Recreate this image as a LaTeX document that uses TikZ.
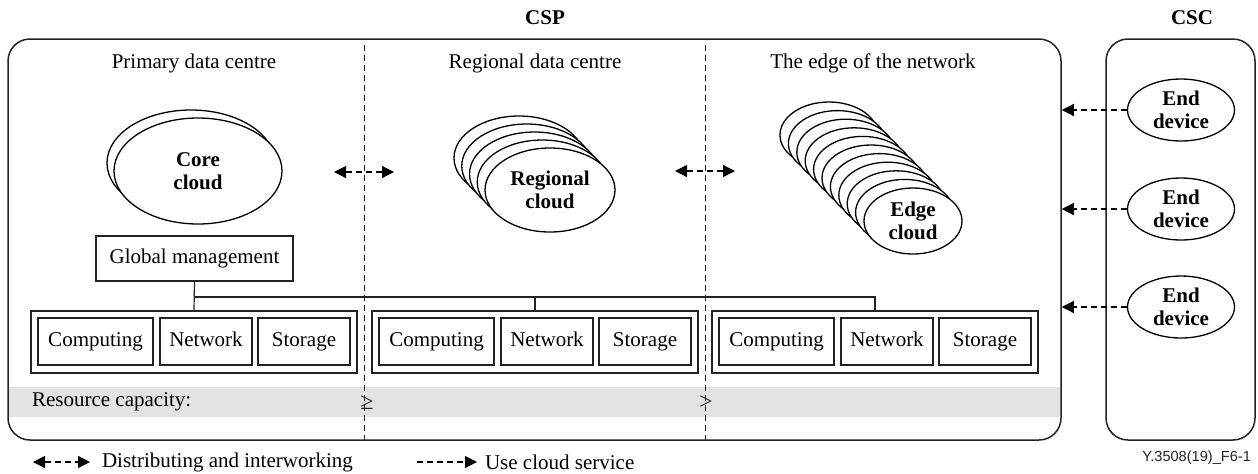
\documentclass[tikz,border=0pt]{standalone}
\usepackage{fontspec}
\setmainfont{Liberation Serif}
\newfontfamily\tagfont{Liberation Sans}
\usetikzlibrary{arrows.meta,shapes.geometric}
\definecolor{bandgray}{HTML}{E3E3E3}
\definecolor{inkgray}{HTML}{222222}
\tikzset{
  panel/.style={draw=inkgray, line width=0.75pt, rounded corners=11pt, inner sep=0pt},
  plainbox/.style={draw=inkgray, line width=0.75pt, inner sep=0pt, minimum height=22.5pt},
  groupbox/.style={draw=inkgray, line width=0.7pt, inner sep=0pt, minimum width=163pt, minimum height=31pt},
  itembox/.style={draw=inkgray, line width=0.8pt, inner sep=0pt, minimum height=23.5pt,
    text height=7.4pt, text depth=2.4pt},
  cloudshape/.style={ellipse, draw=black, fill=white, line width=0.65pt, inner sep=0pt,
    align=center, font=\fontsize{10.5}{11.5}\selectfont\bfseries},
  corecloud/.style={cloudshape, minimum width=84pt, minimum height=53pt},
  regcloud/.style={cloudshape, minimum width=65pt, minimum height=42pt},
  edgecloud/.style={cloudshape, minimum width=49pt, minimum height=33pt},
  device/.style={cloudshape, minimum width=53.5pt, minimum height=31pt},
  divider/.style={draw=inkgray, line width=0.5pt, dash pattern=on 3pt off 2pt},
  link/.style={draw=inkgray, line width=0.6pt},
  relation/.style={font=\fontsize{12}{14}\selectfont, text=inkgray, inner sep=0pt},
  flowtip/.tip={Triangle[length=6pt,width=6pt]},
  distflow/.style={draw=black, line width=0.6pt, dash pattern=on 3pt off 2pt, {flowtip}-{flowtip}},
  useflow/.style={draw=black, line width=0.6pt, dash pattern=on 3pt off 2pt, -{flowtip}},
}
\begin{document}
\begin{tikzpicture}[x=0.5pt, y=-0.5pt, font=\fontsize{10.5}{12.5}\selectfont]
\useasboundingbox (0,0) rectangle (1258,473);

% resource capacity band
\fill[bandgray] (9,387) rectangle (1060,417);

% provider and customer panels
\node[panel, minimum width=526.5pt, minimum height=200.5pt] (csp) at (534.5,239.5) {};
\node[panel, minimum width=74.5pt, minimum height=200.5pt] (csc) at (1180.5,239.5) {};
\node[font=\fontsize{10.5}{12.5}\selectfont\bfseries] (csptitle) at (545,18) {CSP};
\node[font=\fontsize{10.5}{12.5}\selectfont\bfseries] (csctitle) at (1192,18) {CSC};

% dividers between the three tiers
\coordinate (d1top) at (364,45);
\coordinate (d1bot) at (364,440);
\coordinate (d2top) at (705,45);
\coordinate (d2bot) at (705,440);
\draw[divider] (d1top) -- (d1bot);
\draw[divider] (d2top) -- (d2bot);

% tier titles
\node (primary) at (194,63) {Primary data centre};
\node (regional) at (535,63) {Regional data centre};
\node (edge) at (873,63) {The edge of the network};

% core cloud
\node[corecloud] (core-back) at (191,163) {};
\node[corecloud] (core) at (198,171) {Core\\cloud};

% regional clouds
\foreach \i in {4,3,2,1}
  \node[regcloud] (reg-\i) at ({550-7.75*\i},{190-8*\i}) {};
\node[regcloud] (reg) at (550,190) {Regional\\cloud};

% edge clouds
\foreach \i in {10,9,...,1}
  \node[edgecloud] (edg-\i) at ({913-8.4*\i},{221-8.6*\i}) {};
\node[edgecloud] (edg) at (913,221) {Edge\\cloud};

% distributing and interworking between tiers
\coordinate (a1l) at (334,172);
\coordinate (a1r) at (394,172);
\coordinate (a2l) at (675,171);
\coordinate (a2r) at (735,171);
\draw[distflow] (a1l) -- (a1r);
\draw[distflow] (a2l) -- (a2r);

% global management
\node[plainbox, minimum width=98.5pt] (gm) at (194.5,258.5) {Global management};

% resource groups
\foreach \g/\x in {g1/194, g2/535, g3/875} {
  \node[groupbox] (\g) at (\x,342) {};
  \node[itembox, minimum width=57.5pt] (\g-comp) at ({\x-98.5},341.5) {Computing};
  \node[itembox, minimum width=46pt] (\g-net) at ({\x+12},341.5) {Network};
  \node[itembox, minimum width=46pt] (\g-stor) at ({\x+110},341.5) {Storage};
}

% management bus
\coordinate (bus) at (194,297);
\draw[link] (gm.south) -- (g1.north);
\draw[link] (bus) -| (g3.north);
\draw[link] (g2.north) -- (g2.north |- bus);

% resource capacity labels
\node[anchor=west] (rescap) at (25,402) {Resource capacity:};
\node[relation] (ge) at (367,403) {≥};
\node[relation] (gt) at (706,403) {>};

% end devices
\node[device] (ed1) at (1181,110) {End\\device};
\node[device] (ed2) at (1181,209) {End\\device};
\node[device] (ed3) at (1181,307) {End\\device};
\foreach \d in {ed1,ed2,ed3}
  \draw[useflow] (\d.west) -- (\d.west -| csp.east);

% legend
\coordinate (l1l) at (33,462);
\coordinate (l1r) at (90,462);
\draw[distflow] (l1l) -- (l1r);
\node[anchor=west] (l1t) at (95,462) {Distributing and interworking};
\coordinate (l2l) at (417,462);
\coordinate (l2r) at (477,462);
\draw[useflow] (l2l) -- (l2r);
\node[anchor=west] (l2t) at (478,462) {Use cloud service};

% figure tag
\node[anchor=east, font=\tagfont\fontsize{7.3}{8.5}\selectfont, text=inkgray] (tag) at (1258,458) {Y.3508(19)\_F6-1};
\end{tikzpicture}
\end{document}
